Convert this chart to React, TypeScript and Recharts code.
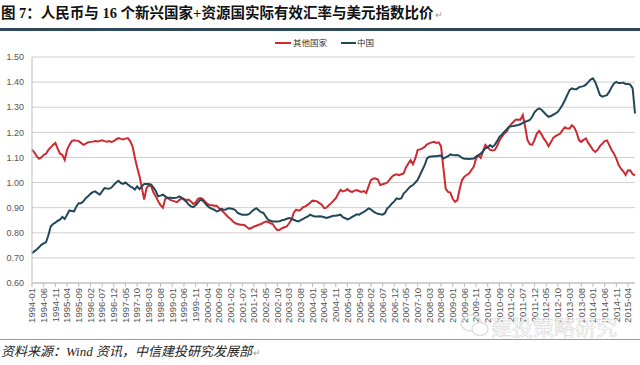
import React from "react";
import { LineChart, Line, XAxis, YAxis, CartesianGrid } from "recharts";

const TITLE = "图 7：人民币与 16 个新兴国家+资源国实际有效汇率与美元指数比价";
const SOURCE = "资料来源：Wind 资讯，中信建投研究发展部";
const WATERMARK = "建投策略研究";
const SERIES_NAMES = ["其他国家", "中国"];
const Y_TICKS = [0.6, 0.7, 0.8, 0.9, 1.0, 1.1, 1.2, 1.3, 1.4, 1.5];

// monthly categories 1994-01 .. 2015-07
const START_YEAR = 1994;
const MONTH_COUNT = 259;
const months: string[] = [];
for (let i = 0; i < MONTH_COUNT; i++) {
  const y = START_YEAR + Math.floor(i / 12);
  const m = (i % 12) + 1;
  months.push(`${y}-${m < 10 ? "0" + m : m}`);
}

// 其他国家 (red)
const others = [
  1.131, 1.12, 1.105, 1.095, 1.1, 1.11, 1.115, 1.13, 1.14, 1.15,
  1.158, 1.135, 1.115, 1.11, 1.09, 1.13, 1.15, 1.165, 1.168, 1.167,
  1.165, 1.158, 1.15, 1.155, 1.16, 1.162, 1.163, 1.165, 1.164, 1.166,
  1.168, 1.165, 1.163, 1.165, 1.162, 1.165, 1.172, 1.177, 1.174, 1.172,
  1.175, 1.177, 1.165, 1.144, 1.1, 1.06, 1.025, 0.98, 0.932, 0.978,
  0.99, 0.985, 0.96, 0.945, 0.925, 0.91, 0.9, 0.935, 0.94, 0.932,
  0.928, 0.925, 0.922, 0.93, 0.938, 0.935, 0.93, 0.932, 0.925, 0.915,
  0.92, 0.935, 0.938, 0.935, 0.925, 0.915, 0.911, 0.91, 0.908, 0.908,
  0.898, 0.89, 0.882, 0.872, 0.862, 0.855, 0.845, 0.838, 0.835, 0.832,
  0.832, 0.83, 0.822, 0.816, 0.82, 0.825, 0.828, 0.832, 0.835, 0.84,
  0.845, 0.843, 0.838, 0.835, 0.82, 0.81, 0.812, 0.818, 0.822, 0.825,
  0.838, 0.852, 0.88, 0.892, 0.888, 0.892, 0.902, 0.905, 0.912, 0.92,
  0.928, 0.927, 0.925, 0.918, 0.912, 0.898, 0.9, 0.91, 0.918, 0.928,
  0.938, 0.955, 0.971, 0.965, 0.968, 0.974, 0.965, 0.963, 0.968, 0.97,
  0.965, 0.963, 0.966, 0.958, 0.985, 1.01, 1.016, 1.016, 1.012, 0.99,
  0.993, 0.996, 1.0, 1.012, 1.023, 1.03, 1.033, 1.029, 1.033, 1.036,
  1.06, 1.076, 1.089, 1.073, 1.096, 1.129, 1.132, 1.136, 1.142, 1.152,
  1.156, 1.16, 1.162, 1.158, 1.16, 1.145, 1.06, 0.975, 0.963, 0.96,
  0.935, 0.923, 0.93, 0.975, 1.01, 1.023, 1.03, 1.036, 1.05, 1.063,
  1.096, 1.108, 1.098, 1.125, 1.15, 1.14, 1.13, 1.128, 1.13, 1.145,
  1.168, 1.182, 1.195, 1.202, 1.218, 1.232, 1.242, 1.25, 1.251, 1.25,
  1.269, 1.222, 1.169, 1.153, 1.15, 1.17, 1.195, 1.206, 1.192, 1.175,
  1.162, 1.145, 1.16, 1.178, 1.185, 1.19, 1.195, 1.209, 1.22, 1.215,
  1.215, 1.228, 1.22, 1.2, 1.169, 1.162, 1.17, 1.176, 1.158, 1.145,
  1.13, 1.122, 1.13, 1.145, 1.155, 1.165, 1.168, 1.149, 1.13, 1.115,
  1.096, 1.07, 1.055, 1.045, 1.03, 1.049, 1.048, 1.033, 1.029,
];

// 中国 (dark teal)
const china = [
  0.719, 0.726, 0.733, 0.742, 0.752, 0.758, 0.762, 0.79, 0.825, 0.835,
  0.84, 0.848, 0.852, 0.863, 0.855, 0.872, 0.889, 0.887, 0.885, 0.905,
  0.918, 0.918, 0.925, 0.938, 0.945, 0.955, 0.962, 0.965, 0.958, 0.952,
  0.965, 0.978, 0.976, 0.975, 0.98, 0.991, 1.0, 1.007, 0.998, 0.995,
  1.0, 0.992, 0.985, 0.98, 0.972, 0.985, 0.974, 0.985, 0.994, 0.994,
  0.994, 0.992, 0.98, 0.965, 0.945, 0.948, 0.952, 0.945, 0.938, 0.94,
  0.938, 0.938, 0.94, 0.945, 0.94, 0.932, 0.925, 0.912, 0.905, 0.902,
  0.91, 0.92, 0.932, 0.928, 0.918, 0.908, 0.9, 0.895, 0.892, 0.885,
  0.888, 0.895, 0.892, 0.893, 0.898, 0.897, 0.895, 0.89, 0.879, 0.875,
  0.872, 0.872, 0.872, 0.875, 0.885, 0.892, 0.898, 0.89, 0.882, 0.879,
  0.865, 0.852, 0.848, 0.845, 0.845, 0.845, 0.846, 0.85, 0.852, 0.856,
  0.859, 0.856, 0.852, 0.848, 0.845, 0.85, 0.855, 0.86, 0.865, 0.872,
  0.868, 0.865, 0.865, 0.866, 0.865, 0.862, 0.859, 0.862, 0.865, 0.868,
  0.868, 0.87, 0.872, 0.862, 0.858, 0.853, 0.857, 0.863, 0.868, 0.874,
  0.872, 0.878, 0.883, 0.89, 0.897, 0.893, 0.885, 0.879, 0.876, 0.874,
  0.872, 0.878, 0.897, 0.905, 0.917, 0.925, 0.937, 0.935, 0.937, 0.956,
  0.965, 0.976, 0.985, 0.99, 1.0, 1.01, 1.03, 1.05, 1.069, 1.096,
  1.103, 1.104, 1.105, 1.105, 1.107, 1.108, 1.096, 1.1, 1.105, 1.112,
  1.11, 1.109, 1.11, 1.105, 1.098, 1.095, 1.095, 1.094, 1.095, 1.096,
  1.103, 1.109, 1.115, 1.125, 1.136, 1.14, 1.149, 1.142, 1.15, 1.165,
  1.182, 1.19, 1.202, 1.21, 1.222, 1.224, 1.225, 1.227, 1.229, 1.232,
  1.238, 1.242, 1.245, 1.249, 1.262, 1.28, 1.29, 1.295, 1.29, 1.28,
  1.27, 1.262, 1.265, 1.27, 1.275, 1.282, 1.295, 1.31, 1.328, 1.348,
  1.368, 1.375, 1.372, 1.372, 1.379, 1.382, 1.384, 1.39, 1.4, 1.41,
  1.415, 1.4, 1.375, 1.348, 1.342, 1.345, 1.348, 1.362, 1.38, 1.395,
  1.401, 1.396, 1.396, 1.398, 1.392, 1.392, 1.39, 1.375, 1.275,
];

const RED = "#cc2a30";
const TEAL = "#21485a";

const data = months.map((m, i) => ({ month: m, others: others[i], china: china[i] }));

const XTick = (props: any) => {
  const { x, y, payload } = props;
  return (
    <text
      x={x}
      y={y}
      transform={`rotate(-90, ${x}, ${y})`}
      textAnchor="end"
      dy="0.35em"
      fontSize={9.5}
      fill="#555"
      fontFamily="'Liberation Sans', Arial, sans-serif"
    >
      {payload.value}
    </text>
  );
};

export default function App() {
  return (
    <div
      style={{
        position: "absolute",
        left: 0,
        top: 0,
        width: 640,
        height: 365,
        background: "#fff",
        overflow: "hidden",
      }}
    >
      {/* Title */}
      <div
        style={{
          position: "absolute",
          left: 1,
          top: 4,
          fontSize: 14.5,
          fontWeight: "bold",
          color: "#111",
          whiteSpace: "nowrap",
          fontFamily: "'Liberation Serif', 'Noto Sans CJK SC', serif",
          lineHeight: "18px",
        }}
      >
        {TITLE}
        <span style={{ fontSize: 9, color: "#999", fontWeight: "normal", marginLeft: 2 }}>↵</span>
      </div>
      <div style={{ position: "absolute", left: 0, top: 28, width: 640, height: 3, background: "#2e4a5a" }} />

      {/* Legend */}
      <div
        style={{
          position: "absolute",
          top: 36,
          left: 0,
          width: 640,
          height: 12,
          fontSize: 8.5,
          color: "#333",
          fontFamily: "'Noto Sans CJK SC', sans-serif",
        }}
      >
        <div style={{ position: "absolute", left: 275, top: 6, width: 16, height: 2, background: RED }} />
        <div style={{ position: "absolute", left: 293, top: 0, lineHeight: "12px" }}>{SERIES_NAMES[0]}</div>
        <div style={{ position: "absolute", left: 341, top: 6, width: 15, height: 2, background: TEAL }} />
        <div style={{ position: "absolute", left: 357, top: 0, lineHeight: "12px" }}>{SERIES_NAMES[1]}</div>
      </div>

      <div style={{ position: "absolute", left: 0, top: 0 }}>
        <LineChart
          width={640}
          height={365}
          data={data}
          margin={{ top: 57, right: 5, left: 0, bottom: 0 }}
        >
          <CartesianGrid vertical={false} stroke="#cfcfcf" strokeWidth={1} />
          <XAxis
            dataKey="month"
            height={82}
            interval={4}
            tick={<XTick />}
            tickSize={4}
            tickMargin={1}
            stroke="#bbb"
            tickLine={{ stroke: "#bbb" }}
          />
          <YAxis
            width={32}
            domain={[0.6, 1.5]}
            ticks={Y_TICKS}
            tickFormatter={(v: number) => v.toFixed(2)}
            tickLine={false}
            stroke="#bbb"
            tick={{ fontSize: 9, fill: "#555", fontFamily: "'Liberation Sans', Arial, sans-serif" }}
          />
          <Line
            type="linear"
            dataKey="others"
            name={SERIES_NAMES[0]}
            stroke={RED}
            strokeWidth={2}
            dot={false}
            isAnimationActive={false}
          />
          <Line
            type="linear"
            dataKey="china"
            name={SERIES_NAMES[1]}
            stroke={TEAL}
            strokeWidth={2}
            dot={false}
            isAnimationActive={false}
          />
        </LineChart>
      </div>

      {/* Watermark */}
      <svg style={{ position: "absolute", left: 455, top: 311 }} width={185} height={30}>
        <ellipse cx={16} cy={12} rx={10} ry={8} fill="none" stroke="#e0e0e0" strokeWidth={1.5} />
        <ellipse cx={25} cy={18} rx={8} ry={6.5} fill="#fff" stroke="#e0e0e0" strokeWidth={1.5} />
        <text
          x={36}
          y={24}
          fontSize={21}
          fill="#fff"
          stroke="#dcdcdc"
          strokeWidth={0.7}
          fontFamily="'Noto Sans CJK SC', sans-serif"
        >
          {WATERMARK}
        </text>
      </svg>

      {/* Footer */}
      <div style={{ position: "absolute", left: 0, top: 339, width: 640, height: 1, background: "#9a9a9a" }} />
      <div
        style={{
          position: "absolute",
          left: 1,
          top: 344,
          fontSize: 13,
          fontStyle: "italic",
          color: "#222",
          whiteSpace: "nowrap",
          fontFamily: "'Liberation Serif', 'Noto Sans CJK SC', serif",
          lineHeight: "16px",
        }}
      >
        {SOURCE}
        <span style={{ fontSize: 9, color: "#999", fontStyle: "normal", marginLeft: 1 }}>↵</span>
      </div>
    </div>
  );
}
